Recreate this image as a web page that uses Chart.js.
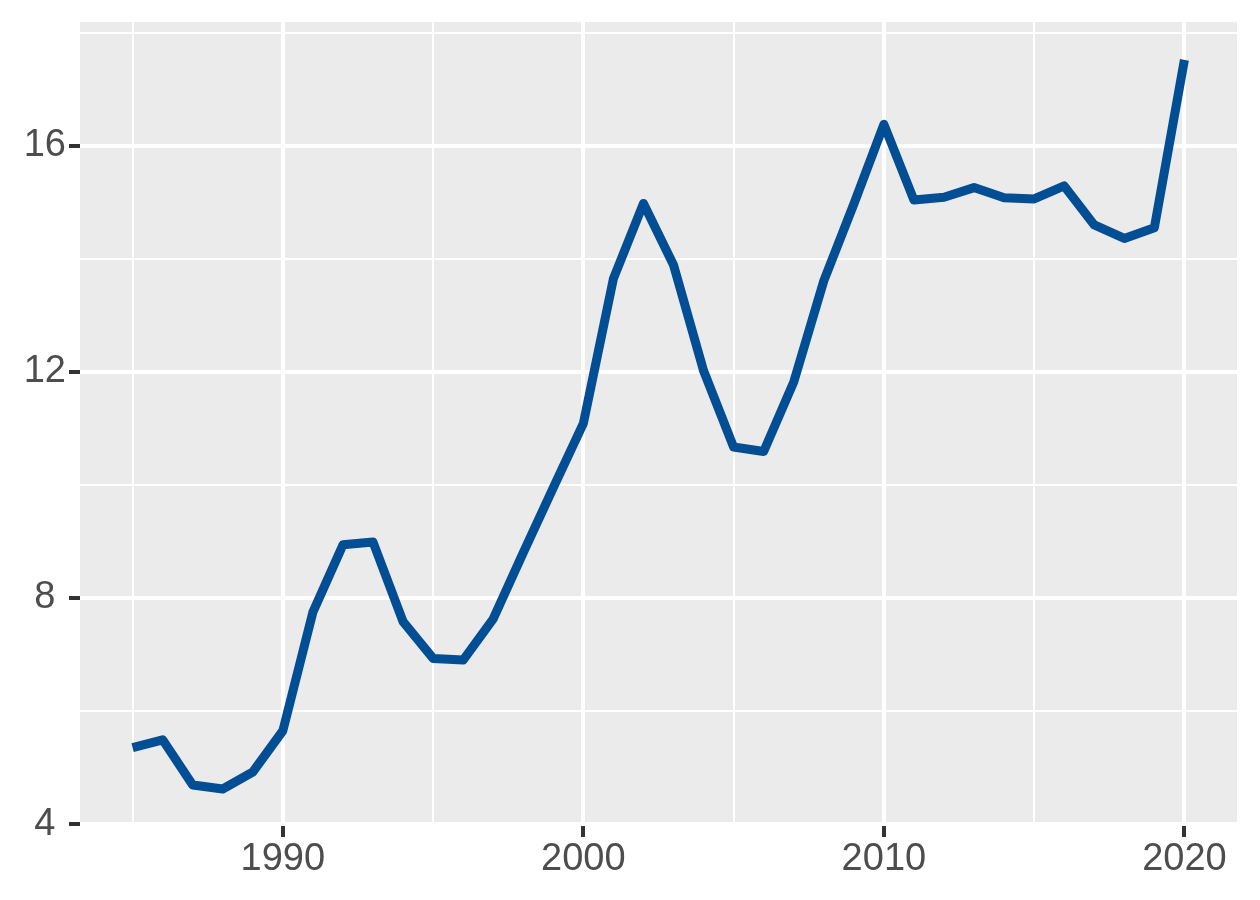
<!DOCTYPE html>
<html>
<head>
<meta charset="utf-8">
<script src="https://cdn.jsdelivr.net/npm/chart.js@4"></script>
<style>
  html, body { margin: 0; padding: 0; background: #ffffff; }
  #wrap { width: 1260px; height: 900px; }
</style>
</head>
<body>
<div id="wrap"><canvas id="c" width="1260" height="900"></canvas></div>
<script>
const years = [1985,1986,1987,1988,1989,1990,1991,1992,1993,1994,1995,1996,1997,1998,1999,2000,2001,2002,2003,2004,2005,2006,2007,2008,2009,2010,2011,2012,2013,2014,2015,2016,2017,2018,2019,2020];
const values = [5.35,5.49,4.69,4.62,4.92,5.65,7.75,8.94,8.99,7.58,6.93,6.90,7.63,8.80,9.95,11.09,13.65,14.98,13.89,12.02,10.67,10.59,11.82,13.61,14.97,16.38,15.04,15.09,15.26,15.08,15.06,15.29,14.60,14.36,14.55,17.52];
const xMajorTicks = [1990, 2000, 2010, 2020];
const xMinorTicks = [1985, 1995, 2005, 2015];
const yMajorTicks = [4, 8, 12, 16];
const yMinorTicks = [6, 10, 14, 18];

const points = years.map((y, i) => ({ x: y, y: values[i] }));
const xAll = [...xMajorTicks, ...xMinorTicks].sort((a, b) => a - b);
const yAll = [...yMajorTicks, ...yMinorTicks].sort((a, b) => a - b);

const panelBg = {
  id: 'panelBg',
  beforeDraw(chart) {
    const { ctx, chartArea: a } = chart;
    ctx.save();
    ctx.fillStyle = '#EBEBEB';
    ctx.fillRect(a.left, a.top, a.right - a.left, a.bottom - a.top);
    ctx.restore();
  }
};

const tickFont = { family: "'Liberation Sans', Arial, sans-serif", size: 38 };

new Chart(document.getElementById('c'), {
  type: 'line',
  data: {
    datasets: [{
      data: points,
      borderColor: '#024E95',
      borderWidth: 9,
      pointRadius: 0,
      tension: 0,
      fill: false,
      borderJoinStyle: 'round',
      borderCapStyle: 'butt'
    }]
  },
  options: {
    responsive: false,
    animation: false,
    layout: { padding: { left: 0, top: 22, right: 23, bottom: 0 } },
    plugins: { legend: { display: false }, tooltip: { enabled: false } },
    scales: {
      x: {
        type: 'linear',
        min: 1983.25,
        max: 2021.75,
        afterBuildTicks(scale) { scale.ticks = xAll.map(v => ({ value: v })); },
        afterFit(scale) { scale.height = 74; scale.paddingLeft = 0; scale.paddingRight = 0; },
        border: { display: false },
        grid: {
          color: '#FFFFFF',
          lineWidth: ctx => xMajorTicks.includes(ctx.tick && ctx.tick.value) ? 4 : 2,
          tickColor: ctx => xMajorTicks.includes(ctx.tick && ctx.tick.value) ? '#333333' : 'rgba(0,0,0,0)',
          tickWidth: 4,
          tickLength: 11,
          drawTicks: true
        },
        ticks: {
          autoSkip: false,
          maxRotation: 0,
          padding: 0,
          color: '#4D4D4D',
          font: tickFont,
          callback: v => xMajorTicks.includes(v) ? String(v) : ''
        }
      },
      y: {
        type: 'linear',
        min: 3.965,
        max: 18.19,
        afterBuildTicks(scale) { scale.ticks = yAll.map(v => ({ value: v })); },
        afterFit(scale) { scale.width = 80; scale.paddingTop = 0; scale.paddingBottom = 0; },
        border: { display: false },
        grid: {
          color: '#FFFFFF',
          lineWidth: ctx => yMajorTicks.includes(ctx.tick && ctx.tick.value) ? 4 : 2,
          tickColor: ctx => yMajorTicks.includes(ctx.tick && ctx.tick.value) ? '#333333' : 'rgba(0,0,0,0)',
          tickWidth: 4,
          tickLength: 11,
          drawTicks: true
        },
        ticks: {
          autoSkip: false,
          padding: 3,
          crossAlign: 'center',
          color: '#4D4D4D',
          font: tickFont,
          callback: v => yMajorTicks.includes(v) ? String(v) : ''
        }
      }
    }
  },
  plugins: [panelBg]
});
</script>
</body>
</html>
